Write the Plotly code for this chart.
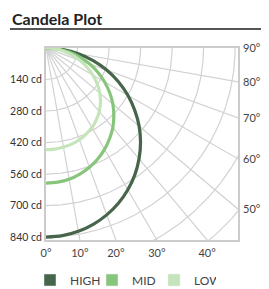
import numpy as np
import plotly.graph_objects as go

# ---- data ----
angles = [0, 5, 10, 15, 20, 25, 30, 35, 40, 45, 50, 55, 60, 65, 70, 75, 80, 85, 90]
high = [840, 837, 827, 811, 789, 761, 727, 688, 643, 594, 540, 481, 420, 355, 287, 217, 146, 73, 0]
mid = [600, 598, 592, 580, 564, 544, 520, 492, 462, 426, 388, 345, 300, 254, 205, 155, 104, 52, 0]
low = [452, 451, 447, 442, 434, 422, 408, 390, 368, 342, 312, 278, 240, 200, 160, 120, 80, 40, 0]
series_names = ["HIGH", "MID", "LOW"]
series_colors = ["#46654a", "#88c57c", "#c6e4b9"]

radial_ticks = [140, 280, 420, 560, 700, 840]
bottom_angle_ticks = [0, 10, 20, 30, 40]
right_angle_ticks = [50, 60, 70, 80, 90]
grid_angles = [10, 20, 30, 40, 50, 60, 70, 80]
grid_radii = [140, 280, 420, 560, 700, 840, 980, 1120]

RMAX = 853  # candela shown across the square plot box
GRID = "#d2d2d2"

# the page body adds an 8px margin, so the figure itself is 8px smaller
W, H = 261, 281
ML, MT, PW, PH = 38, 40, 192, 192


def to_xy(r, a_deg):
    a = np.radians(np.asarray(a_deg, dtype=float))
    r = np.asarray(r, dtype=float)
    return r * np.sin(a), r * np.cos(a)


fig = go.Figure()

# grid: radial spokes and concentric arcs
gx, gy = [], []
for a in grid_angles:
    x, y = to_xy([0, 2000], [a, a])
    gx += list(x) + [None]
    gy += list(y) + [None]
arc = np.linspace(0, 90, 181)
for r in grid_radii:
    x, y = to_xy(np.full_like(arc, r), arc)
    gx += list(x) + [None]
    gy += list(y) + [None]
fig.add_trace(go.Scatter(x=gx, y=gy, mode="lines", line=dict(color=GRID, width=1.2),
                         hoverinfo="skip", showlegend=False))

# curves
for name, vals, col in zip(series_names, [high, mid, low], series_colors):
    x, y = to_xy(vals, angles)
    fig.add_trace(go.Scatter(x=x, y=y, mode="lines", name=name,
                             line=dict(color=col, width=3.2, shape="spline"),
                             showlegend=False))

# legend swatches
for name, col in zip(series_names, series_colors):
    fig.add_trace(go.Bar(x=[None], y=[None], name=name, marker=dict(color=col)))

bottom_vals = [RMAX * np.tan(np.radians(a)) for a in bottom_angle_ticks]
right_vals = [RMAX / np.tan(np.radians(a)) if a < 90 else 0 for a in right_angle_ticks]

axis_font = dict(family="Lato, sans-serif", size=11, color="#444444")

fig.update_layout(
    width=W, height=H,
    margin=dict(l=ML, r=W - ML - PW, t=MT, b=H - MT - PH),
    paper_bgcolor="white", plot_bgcolor="white",
    showlegend=True,
    legend=dict(orientation="h", xref="container", yref="container",
                x=22 / W, y=1 - 272 / H, xanchor="left", yanchor="middle",
                font=dict(family="Lato, sans-serif", size=12, color="#444444"),
                itemwidth=30, entrywidth=17, tracegroupgap=0),
    xaxis=dict(range=[0, RMAX], showgrid=False, zeroline=False, automargin=False,
               showline=True, linecolor="#cccccc", linewidth=2, mirror=True,
               tickvals=bottom_vals, ticktext=[f"{a}°" for a in bottom_angle_ticks],
               ticks="", ticklabelstandoff=2, tickfont=axis_font),
    yaxis=dict(range=[RMAX, 0], showgrid=False, zeroline=False, automargin=False,
               showline=True, linecolor="#cccccc", linewidth=2, mirror=True,
               tickvals=radial_ticks, ticktext=[f"{v} cd" for v in radial_ticks],
               ticks="", ticklabelstandoff=0,
               tickfont=dict(family="Lato, sans-serif", size=10.5, color="#333333")),
    yaxis2=dict(range=[RMAX, 0], overlaying="y", side="right", showgrid=False,
                zeroline=False, showline=False, automargin=False,
                tickvals=right_vals, ticktext=[f"{a}°" for a in right_angle_ticks],
                ticks="", ticklabelstandoff=4, tickfont=axis_font),
    annotations=[dict(text="<b>Candela Plot</b>", xref="paper", yref="paper",
                      x=(2 - ML) / PW, y=(MT + PH - 10) / PH, xanchor="left", yanchor="middle",
                      showarrow=False,
                      font=dict(family="Lato, sans-serif", size=16, color="#222222"))],
    shapes=[dict(type="line", xref="paper", yref="paper",
                 x0=(2 - ML) / PW, x1=(W - ML) / PW,
                 y0=(MT + PH - 21) / PH, y1=(MT + PH - 21) / PH,
                 line=dict(color="#555555", width=2))],
)
# dummy trace on yaxis2 so the right axis is drawn
fig.add_trace(go.Scatter(x=[None], y=[None], yaxis="y2", showlegend=False, hoverinfo="skip"))

fig.write_html("out.html")
